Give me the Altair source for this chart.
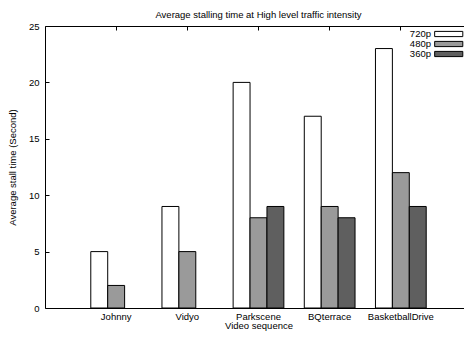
import altair as alt
import pandas as pd

categories = ["Johnny", "Vidyo", "Parkscene", "BQterrace", "BasketballDrive"]
series = ["720p", "480p", "360p"]
v720 = [5, 9, 20, 17, 23]
v480 = [2, 5, 8, 9, 12]
v360 = [None, None, 9, 8, 9]
fills = ["#ffffff", "#9a9a9a", "#5f5f5f"]
y_ticks = [0, 5, 10, 15, 20, 25]

rows = []
for s, vals in zip(series, [v720, v480, v360]):
    for c, v in zip(categories, vals):
        if v is not None:
            rows.append({"seq": c, "res": s, "val": v})
df = pd.DataFrame(rows)

FONT = "Liberation Sans"
FS = 9.5
xscale = alt.Scale(domain=categories, paddingInner=0.287, paddingOuter=0.6435)
yscale = alt.Scale(domain=[0, 25], nice=False)

base = alt.Chart(df)

bars = base.mark_bar(stroke="black", strokeWidth=1).encode(
    x=alt.X("seq:N", scale=xscale, sort=categories,
            axis=alt.Axis(title="Video sequence", orient="bottom", labelAngle=0,
                          ticks=False, domain=True, labelPadding=3, titlePadding=0)),
    xOffset=alt.XOffset("res:N", sort=series,
                        scale=alt.Scale(domain=series, paddingInner=0, paddingOuter=0)),
    y=alt.Y("val:Q", scale=yscale,
            axis=alt.Axis(title="Average stall time (Second)", values=y_ticks, offset=-4,
                          tickSize=4, domain=False, labelPadding=6, titlePadding=11,
                          grid=False)),
    fill=alt.Fill("res:N", sort=series, scale=alt.Scale(domain=series, range=fills),
                  legend=alt.Legend(title=None, orient="none", legendX=376, legendY=3,
                                    padding=0,
                                    symbolType="M2,-0.6H8.5V0.6H2Z", symbolSize=75,
                                    symbolStrokeColor="black", symbolStrokeWidth=1,
                                    labelFont=FONT, labelFontSize=FS, labelColor="black",
                                    labelAlign="right", labelOffset=0,
                                    rowPadding=alt.ExprRef(expr="-3"))),
)

# frame lines (left and top) drawn as axis domains
frame = base.mark_point(opacity=0).encode(
    x=alt.X("seq:N", scale=xscale, sort=categories,
            axis=alt.Axis(orient="top", labels=False, title=None, domain=True,
                          ticks=False, offset=0)),
    y=alt.Y("val:Q", scale=yscale,
            axis=alt.Axis(orient="left", labels=False, title=None, domain=True,
                          ticks=False, offset=0, grid=False)),
)

# inward ticks on the top edge
top_ticks = base.mark_point(opacity=0).encode(
    x=alt.X("seq:N", scale=xscale, sort=categories,
            axis=alt.Axis(orient="top", labels=False, title=None, domain=False,
                          ticks=True, tickSize=4, offset=-4, bandPosition=0.5)),
)

chart = alt.layer(bars, frame, top_ticks).resolve_axis(
    x="independent", y="independent"
).properties(
    width=427,
    height=282,
    padding={"left": 37, "top": 18, "right": -8, "bottom": 23},
    autosize=alt.AutoSizeParams(type="none"),
    title=alt.TitleParams("Average stalling time at High level traffic intensity",
                          font=FONT, fontSize=FS, fontWeight="normal", color="black",
                          offset=8, dy=6.5),
).configure_view(
    stroke=None
).configure_axis(
    labelFont=FONT, labelFontSize=FS, labelColor="black",
    titleFont=FONT, titleFontSize=FS, titleFontWeight="normal", titleColor="black",
    tickColor="black", domainColor="black", domainWidth=1,
)

chart.save("out.html", embed_options={"renderer": "svg", "actions": False})
